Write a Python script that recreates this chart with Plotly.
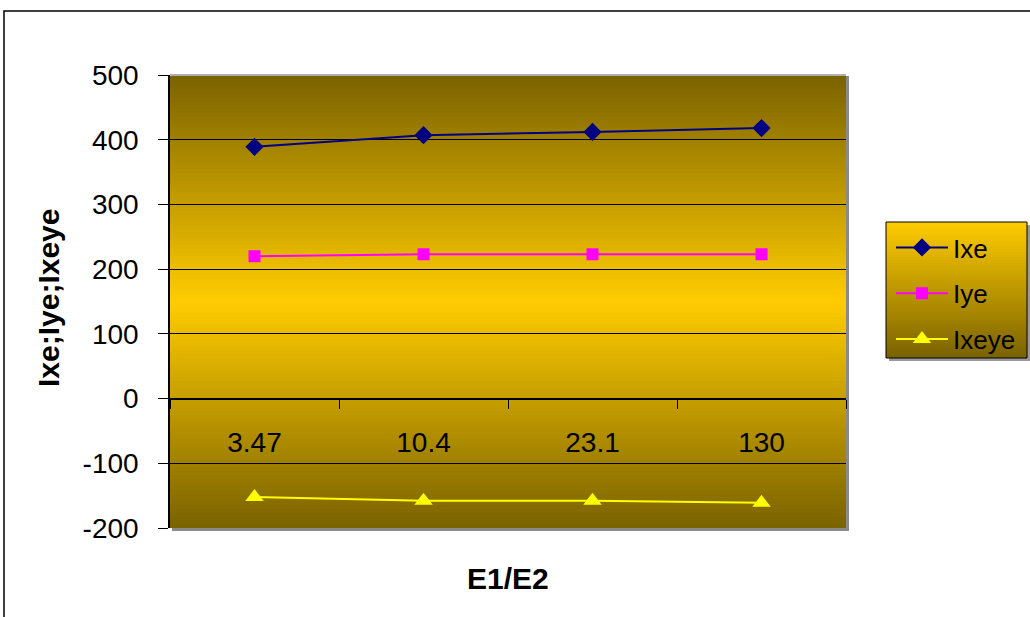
import plotly.graph_objects as go

# ---- data ----
categories = ["3.47", "10.4", "23.1", "130"]
lxe = [389, 407, 412, 418]
lye = [220, 223, 223, 223]
lxeye = [-152, -158, -158, -161]
y_tick_values = [-200, -100, 0, 100, 200, 300, 400, 500]
y_tick_labels = ["-200", "-100", "0", "100", "200", "300", "400", "500"]

W, H = 1030, 617
L, R, T, B = 170, 846, 75, 528  # plot area pixels


def px(x):
    return (x - L) / (R - L)


def py(y):
    return (B - y) / (B - T)


def lerp(c1, c2, f):
    return "rgb(%d,%d,%d)" % tuple(round(a + (b - a) * f) for a, b in zip(c1, c2))


dark = (122, 98, 0)
bright = (255, 204, 0)

shapes = []
# plot area gradient (dark top -> bright middle -> dark bottom)
N = 120
ov = 2.5 / (B - T)
for i in range(N):
    t0 = i / N
    t1 = (i + 1) / N
    tm = (t0 + t1) / 2
    f = 1 - abs(tm - 0.5) / 0.5
    shapes.append(dict(type="rect", xref="paper", yref="paper", x0=0, x1=1,
                       y0=max(0, 1 - t1 - ov), y1=1 - t0, fillcolor=lerp(dark, bright, f),
                       line=dict(width=0), layer="below"))
# plot area shadow (right + bottom)
shapes.append(dict(type="rect", xref="paper", yref="paper", x0=1, x1=px(R + 3),
                   y0=py(B + 3), y1=py(T + 1), fillcolor="#8a8a8a", line=dict(width=0), layer="below"))
shapes.append(dict(type="rect", xref="paper", yref="paper", x0=px(L + 2), x1=px(R + 3),
                   y0=py(B + 3), y1=0, fillcolor="#8a8a8a", line=dict(width=0), layer="below"))
shapes.append(dict(type="line", xref="paper", yref="paper", x0=0, x1=1, y0=1, y1=1,
                   line=dict(color="#b0b0b0", width=2), layer="below"))

# legend box: shadow, gradient, border
LX0, LX1, LY0, LY1 = 886, 1027, 222, 358
shapes.append(dict(type="rect", xref="paper", yref="paper", x0=px(LX0 + 3), x1=px(LX1 + 3),
                   y0=py(LY1 + 3), y1=py(LY0 + 3), fillcolor="#9a9a9a", line=dict(width=0), layer="below"))
M = 50
for i in range(M):
    f0 = i / M
    f1 = (i + 1) / M
    ya = LY0 + (LY1 - LY0) * f0
    yb = min(LY1, LY0 + (LY1 - LY0) * f1 + 2)
    shapes.append(dict(type="rect", xref="paper", yref="paper", x0=px(LX0), x1=px(LX1),
                       y0=py(yb), y1=py(ya), fillcolor=lerp(bright, dark, (f0 + f1) / 2),
                       line=dict(width=0), layer="below"))
shapes.append(dict(type="rect", xref="paper", yref="paper", x0=px(LX0), x1=px(LX1),
                   y0=py(LY1), y1=py(LY0), fillcolor="rgba(0,0,0,0)",
                   line=dict(color="black", width=1), layer="below"))

# outer chart border (extends past right and bottom edges)
shapes.append(dict(type="rect", xref="paper", yref="paper", x0=px(4), x1=px(W + 20),
                   y0=py(H + 20), y1=py(11), fillcolor="rgba(0,0,0,0)",
                   line=dict(color="black", width=1.5), layer="below"))

fig = go.Figure()
fig.add_trace(go.Scatter(x=categories, y=lxe, name="Ixe", mode="lines+markers", legendgroup="a",
                         line=dict(color="#000080", width=2),
                         marker=dict(symbol="diamond", size=14, color="#000080")))
fig.add_trace(go.Scatter(x=categories, y=lye, name="Iye", mode="lines+markers", legendgroup="b",
                         line=dict(color="#FF00FF", width=2),
                         marker=dict(symbol="square", size=12, color="#FF00FF")))
fig.add_trace(go.Scatter(x=categories, y=lxeye, name="Ixeye", mode="lines+markers", legendgroup="c",
                         line=dict(color="#FFFF00", width=2),
                         marker=dict(symbol="triangle-up", size=16, color="#FFFF00")))

fig.update_layout(
    width=W, height=H,
    margin=dict(l=L, r=W - R, t=T, b=H - B, pad=0, autoexpand=False),
    paper_bgcolor="white",
    plot_bgcolor="rgba(0,0,0,0)",
    font=dict(family="Arial, Liberation Sans, sans-serif", color="black"),
    showlegend=True,
    legend=dict(x=px(891), y=py(224), xanchor="left", yanchor="top",
                bgcolor="rgba(0,0,0,0)", borderwidth=0,
                font=dict(size=26), itemwidth=52, tracegroupgap=9),
    shapes=shapes,
    xaxis=dict(type="category", anchor="free", position=2 / 7,
               showline=True, linecolor="black", linewidth=1,
               ticks="outside", ticklen=9, tickcolor="black", tickwidth=1,
               tickson="boundaries", showgrid=False, zeroline=False,
               tickfont=dict(size=28), ticklabelstandoff=19,
               range=[-0.5, 3.5]),
    yaxis=dict(range=[-200, 500], tickvals=y_tick_values, ticktext=y_tick_labels,
               showline=True, linecolor="black", linewidth=1.5,
               ticks="outside", ticklen=10, tickcolor="black",
               showgrid=True, gridcolor="black", gridwidth=1, zeroline=False,
               tickfont=dict(size=28), ticklabelstandoff=14),
    annotations=[
        dict(text="<b>E1/E2</b>", xref="paper", yref="paper", x=0.5, y=py(578),
             xanchor="center", yanchor="middle", showarrow=False, font=dict(size=30)),
        dict(text="<b>Ixe;Iye;Ixeye</b>", xref="paper", yref="paper", x=px(48), y=py(298),
             xanchor="center", yanchor="middle", showarrow=False, textangle=-90,
             font=dict(size=30)),
    ],
)

fig.write_html("out.html")
